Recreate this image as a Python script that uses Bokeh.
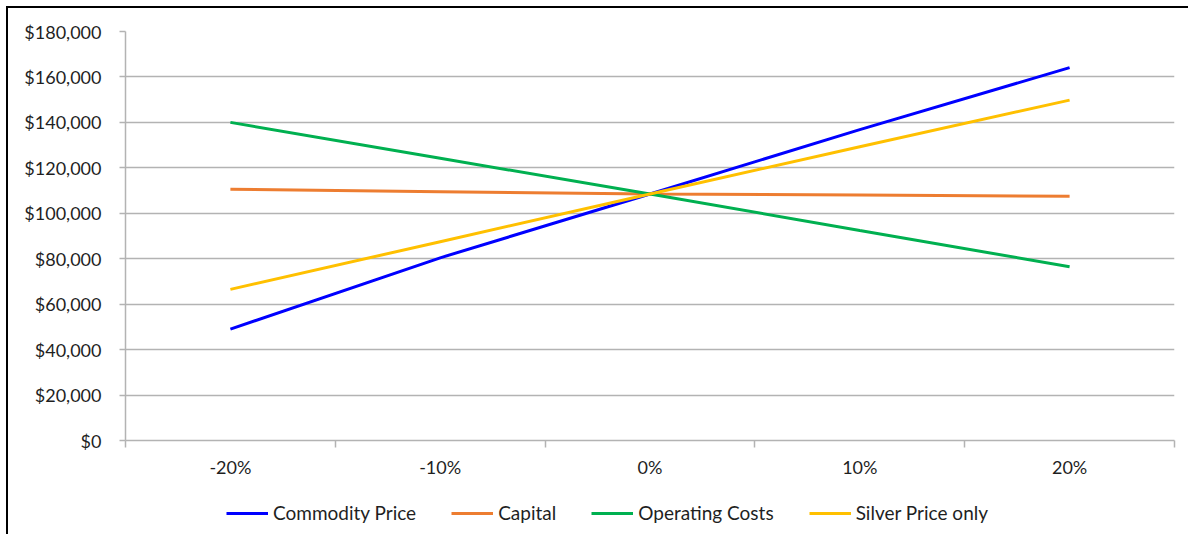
from bokeh.plotting import figure
from bokeh.layouts import column
from bokeh.models import FixedTicker, NumeralTickFormatter, Legend, LegendItem, Range1d
from bokeh.embed import file_html
from bokeh.resources import INLINE

categories = ["-20%", "-10%", "0%", "10%", "20%"]
commodity_price = [49000, 80400, 108500, 136800, 164100]
capital = [110600, 109500, 108500, 108000, 107500]
operating_costs = [140000, 124200, 108500, 92400, 76500]
silver_price_only = [66500, 87500, 108500, 129300, 149800]
series_names = ["Commodity Price", "Capital", "Operating Costs", "Silver Price only"]
series_colors = ["#0000FF", "#ED7D31", "#00B050", "#FFC000"]
y_ticks = [0, 20000, 40000, 60000, 80000, 100000, 120000, 140000, 160000, 180000]

FONT = "Lato"
TXT = "#1f1f1f"
GRID = "#b3b3b3"

xs = list(range(len(categories)))
series = [commodity_price, capital, operating_costs, silver_price_only]

p = figure(frame_width=1049, frame_height=409, output_backend="svg", toolbar_location=None,
           x_range=Range1d(-0.5, len(categories) - 0.5), y_range=Range1d(0, 180000),
           min_border_left=117, min_border_top=23, min_border_right=14, min_border_bottom=50)
p.outline_line_color = None

for name, col, ys in zip(series_names, series_colors, series):
    p.line(xs, ys, line_color=col, line_width=3)

# x axis
p.xaxis.ticker = FixedTicker(ticks=xs, minor_ticks=[i - 0.5 for i in range(len(categories) + 1)])
p.xaxis.major_label_overrides = {i: c for i, c in enumerate(categories)}
p.xaxis.major_tick_out = 0
p.xaxis.major_tick_in = 0
p.xaxis.minor_tick_out = 7
p.xaxis.minor_tick_in = 0
p.xaxis.minor_tick_line_color = GRID
p.xaxis.minor_tick_line_width = 1.5
p.xaxis.axis_line_color = GRID
p.xaxis.axis_line_width = 1.5
p.xaxis.major_label_standoff = 8

# y axis
p.yaxis.ticker = FixedTicker(ticks=y_ticks)
p.yaxis.formatter = NumeralTickFormatter(format="$0,0")
p.yaxis.major_tick_out = 6
p.yaxis.major_tick_in = 0
p.yaxis.minor_tick_line_color = None
p.yaxis.major_tick_line_color = GRID
p.yaxis.major_tick_line_width = 1.5
p.yaxis.axis_line_color = GRID
p.yaxis.axis_line_width = 1.5
p.yaxis.major_label_standoff = 18

for ax in (p.xaxis, p.yaxis):
    ax.major_label_text_font = FONT
    ax.major_label_text_font_size = "18px"
    ax.major_label_text_color = TXT

p.xgrid.grid_line_color = None
p.ygrid.grid_line_color = GRID
p.ygrid.grid_line_width = 1.5

# legend strip below the chart (series lines kept out of its visible range)
lg = figure(width=1180, height=44, output_backend="svg", toolbar_location=None,
            x_axis_location=None, y_axis_location=None, min_border=0,
            x_range=Range1d(-0.5, len(categories) - 0.5), y_range=Range1d(-2e6, -1e6))
lg.outline_line_color = None
lg.grid.grid_line_color = None
items = []
for name, col, ys in zip(series_names, series_colors, series):
    r = lg.line(xs, ys, line_color=col, line_width=3)
    items.append(LegendItem(label=name, renderers=[r]))
legend = Legend(items=items, orientation="horizontal", location=(101, 10),
                glyph_width=42, glyph_height=20, label_text_font=FONT,
                label_text_font_size="19px", label_text_color=TXT,
                label_standoff=5, spacing=35, border_line_color=None,
                background_fill_alpha=0, padding=0, margin=0)
lg.add_layout(legend, "center")

layout = column(p, lg, spacing=0)
layout.styles = {"border-top": "2px solid #000", "border-left": "2px solid #000",
                 "margin-left": "6px", "margin-top": "6px"}

open("out.html", "w").write(file_html(layout, INLINE))
